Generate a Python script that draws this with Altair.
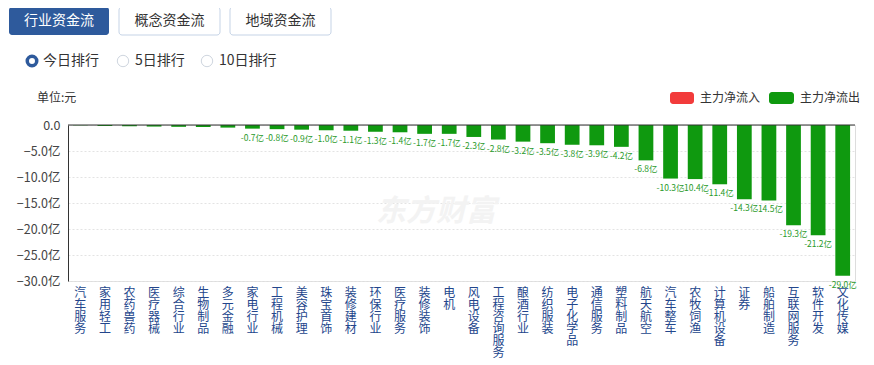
import altair as alt
import pandas as pd

categories = ["汽车服务", "家用轻工", "农药兽药", "医疗器械", "综合行业", "生物制品", "多元金融",
              "家电行业", "工程机械", "美容护理", "珠宝首饰", "装修建材", "环保行业", "医疗服务",
              "装修装饰", "电机", "风电设备", "工程咨询服务", "酿酒行业", "纺织服装", "电子化学品",
              "通信服务", "塑料制品", "航天航空", "汽车整车", "农牧饲渔", "计算机设备", "证券",
              "船舶制造", "互联网服务", "软件开发", "文化传媒"]
values = [-0.05, -0.2, -0.25, -0.3, -0.35, -0.4, -0.5,
          -0.7, -0.8, -0.9, -1.0, -1.1, -1.3, -1.4,
          -1.7, -1.7, -2.3, -2.8, -3.2, -3.5, -3.8,
          -3.9, -4.2, -6.8, -10.3, -10.4, -11.4, -14.3,
          -14.5, -19.3, -21.2, -29.0]
shown_labels = ["", "", "", "", "", "", "",
                "-0.7亿", "-0.8亿", "-0.9亿", "-1.0亿", "-1.1亿", "-1.3亿", "-1.4亿",
                "-1.7亿", "-1.7亿", "-2.3亿", "-2.8亿", "-3.2亿", "-3.5亿", "-3.8亿",
                "-3.9亿", "-4.2亿", "-6.8亿", "-10.3亿", "-10.4亿", "-11.4亿", "-14.3亿",
                "-14.5亿", "-19.3亿", "-21.2亿", "-29.0亿"]
y_ticks = [0, -5, -10, -15, -20, -25, -30]

FONT = "Noto Sans CJK SC"
GREEN = "#0f990f"
BLUE_LABEL = "#23468c"

df = pd.DataFrame({"cat": categories, "val": values, "lab": shown_labels})

xscale = alt.Scale(paddingInner=0.4, paddingOuter=0.2)
xaxis = alt.Axis(title=None, labelAngle=0, domain=False, ticks=False,
                 labelExpr="split(datum.label, '')", labelLineHeight=12,
                 labelFontSize=12, labelColor=BLUE_LABEL, labelFont=FONT,
                 labelBaseline="top", labelPadding=6, labelOverlap=False)
yscale = alt.Scale(domain=[-30, 0], nice=False)
yaxis = alt.Axis(title=None, values=y_ticks, ticks=False, domain=True,
                 domainColor="#333333", labelPadding=8, labelFontSize=12.5,
                 labelColor="#444444", labelFont=FONT, labelOverlap=False,
                 labelExpr="datum.value == 0 ? '0.0' : format(datum.value, '.1f') + '亿'",
                 grid=True, gridColor="#e3e3e3", gridDash=[2, 2])

base = alt.Chart(df)
bars = base.mark_bar(color=GREEN).encode(
    x=alt.X("cat:N", sort=categories, scale=xscale, axis=xaxis),
    y=alt.Y("val:Q", scale=yscale, axis=yaxis),
)
labels = base.mark_text(color="#2a9a2a", fontSize=8.5, font=FONT, baseline="top", dy=5).encode(
    x=alt.X("cat:N", sort=categories, scale=xscale, axis=xaxis),
    y=alt.Y("val:Q", scale=yscale, axis=yaxis),
    text="lab:N",
)
zero_rule = alt.Chart(pd.DataFrame({"z": [0]})).mark_rule(color="#333333", strokeWidth=1).encode(
    y=alt.Y("z:Q", scale=yscale, axis=yaxis)
)


def txt(s, x, y, size=12, color="#333333", align="left", weight="normal", style="normal"):
    return alt.Chart(pd.DataFrame({"t": [s]})).mark_text(
        align=align, baseline="middle", fontSize=size, color=color, font=FONT,
        fontWeight=weight, fontStyle=style
    ).encode(x=alt.value(x), y=alt.value(y), text="t:N")


def box(x1, x2, y1, y2, fill, stroke=None, r=3):
    kw = dict(fill=fill, cornerRadius=r)
    if stroke:
        kw.update(stroke=stroke, strokeWidth=1)
    return alt.Chart(pd.DataFrame({"t": [0]})).mark_rect(**kw).encode(
        x=alt.value(x1), x2=alt.value(x2), y=alt.value(y1), y2=alt.value(y2))


def radio(x, y, active):
    if active:
        m = alt.Chart(pd.DataFrame({"t": [0]})).mark_point(
            shape="circle", size=90, filled=False, stroke="#2e5a9c", strokeWidth=3.5, fill="#ffffff", fillOpacity=1)
    else:
        m = alt.Chart(pd.DataFrame({"t": [0]})).mark_point(
            shape="circle", size=130, filled=False, stroke="#cfd6df", strokeWidth=1, fill="#ffffff", fillOpacity=1)
    return m.encode(x=alt.value(x), y=alt.value(y))


ui = [
    box(-59, 41, -118, -90, "#2e5a9c"),
    txt("行业资金流", -9, -104, size=14, color="#ffffff", align="center"),
    box(51, 152, -118, -90, "#ffffff", stroke="#c5d3e6"),
    txt("概念资金流", 101.5, -104, size=14, color="#333333", align="center"),
    box(162, 263, -118, -90, "#ffffff", stroke="#c5d3e6"),
    txt("地域资金流", 212.5, -104, size=14, color="#333333", align="center"),
    radio(-36, -64, True),
    txt("今日排行", -25, -64, size=14),
    radio(55, -64, False),
    txt("5日排行", 67, -64, size=14),
    radio(139, -64, False),
    txt("10日排行", 151, -64, size=14),
    txt("单位:元", -31, -27, size=12),
    box(602, 626, -33, -21, "#f23b3b"),
    txt("主力净流入", 632, -27, size=12),
    box(701, 726, -33, -21, GREEN),
    txt("主力净流出", 732, -27, size=12),
    txt("东方财富", 368, 87, size=30, color="#f3f3f3", align="center", weight="bold", style="italic"),
]

chart = alt.layer(*ui[-1:], bars, zero_rule, labels, *ui[:-1]).properties(
    width=787, height=156,
    padding={"left": 60, "top": 117, "right": 10, "bottom": 80},
    autosize=alt.AutoSizeParams(type="none"),
).configure_view(stroke="transparent").configure(font=FONT)

chart.save("out.html", embed_options={"renderer": "svg", "actions": False})
